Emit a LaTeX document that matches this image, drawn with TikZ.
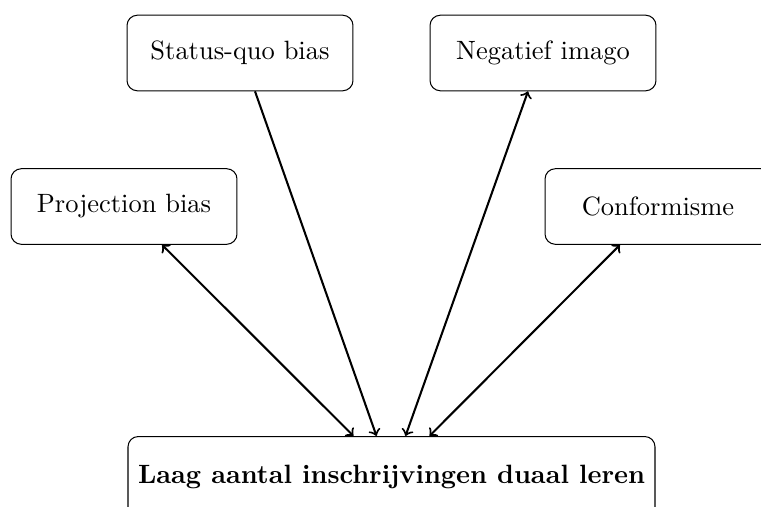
\documentclass[tikz,border=0pt]{standalone}
\usetikzlibrary{calc}
\begin{document}
\begin{tikzpicture}[x=0.389pt,y=-0.389pt,
  every node/.style={font=\fontsize{10.3}{12}\selectfont},
  box/.style={draw,rounded corners=4pt,line width=0.4pt,minimum width=87.9pt,minimum height=29.4pt,inner sep=0pt},
  bigbox/.style={draw,rounded corners=4pt,line width=0.4pt,minimum width=205pt,minimum height=31.5pt,inner sep=0pt,font=\fontsize{10.3}{12}\selectfont\bfseries},
  link/.style={thick}]
\useasboundingbox (0,0) rectangle (761,507);
\clip (0,0) rectangle (761,507);
\node[box] (proj) at (124,206.5) {Projection bias};
\node[box] (sq) at (240,53) {Status-quo bias};
\node[box] (neg) at (543,53) {Negatief imago};
\node[box] (conf) at (658,206.5) {Conformisme};
\node[bigbox] (laag) at (391.5,477) {Laag aantal inschrijvingen duaal leren};
\draw[link,<->] ($(proj.south)+(38,0)$) -- ($(laag.north)+(-38,0)$);
\draw[link,->] ($(sq.south)+(15,0)$) -- ($(laag.north)+(-15,0)$);
\draw[link,<->] ($(laag.north)+(14,0)$) -- ($(neg.south)+(-15,0)$);
\draw[link,<->] ($(laag.north)+(38,0)$) -- ($(conf.south)+(-38,0)$);
\end{tikzpicture}
\end{document}
